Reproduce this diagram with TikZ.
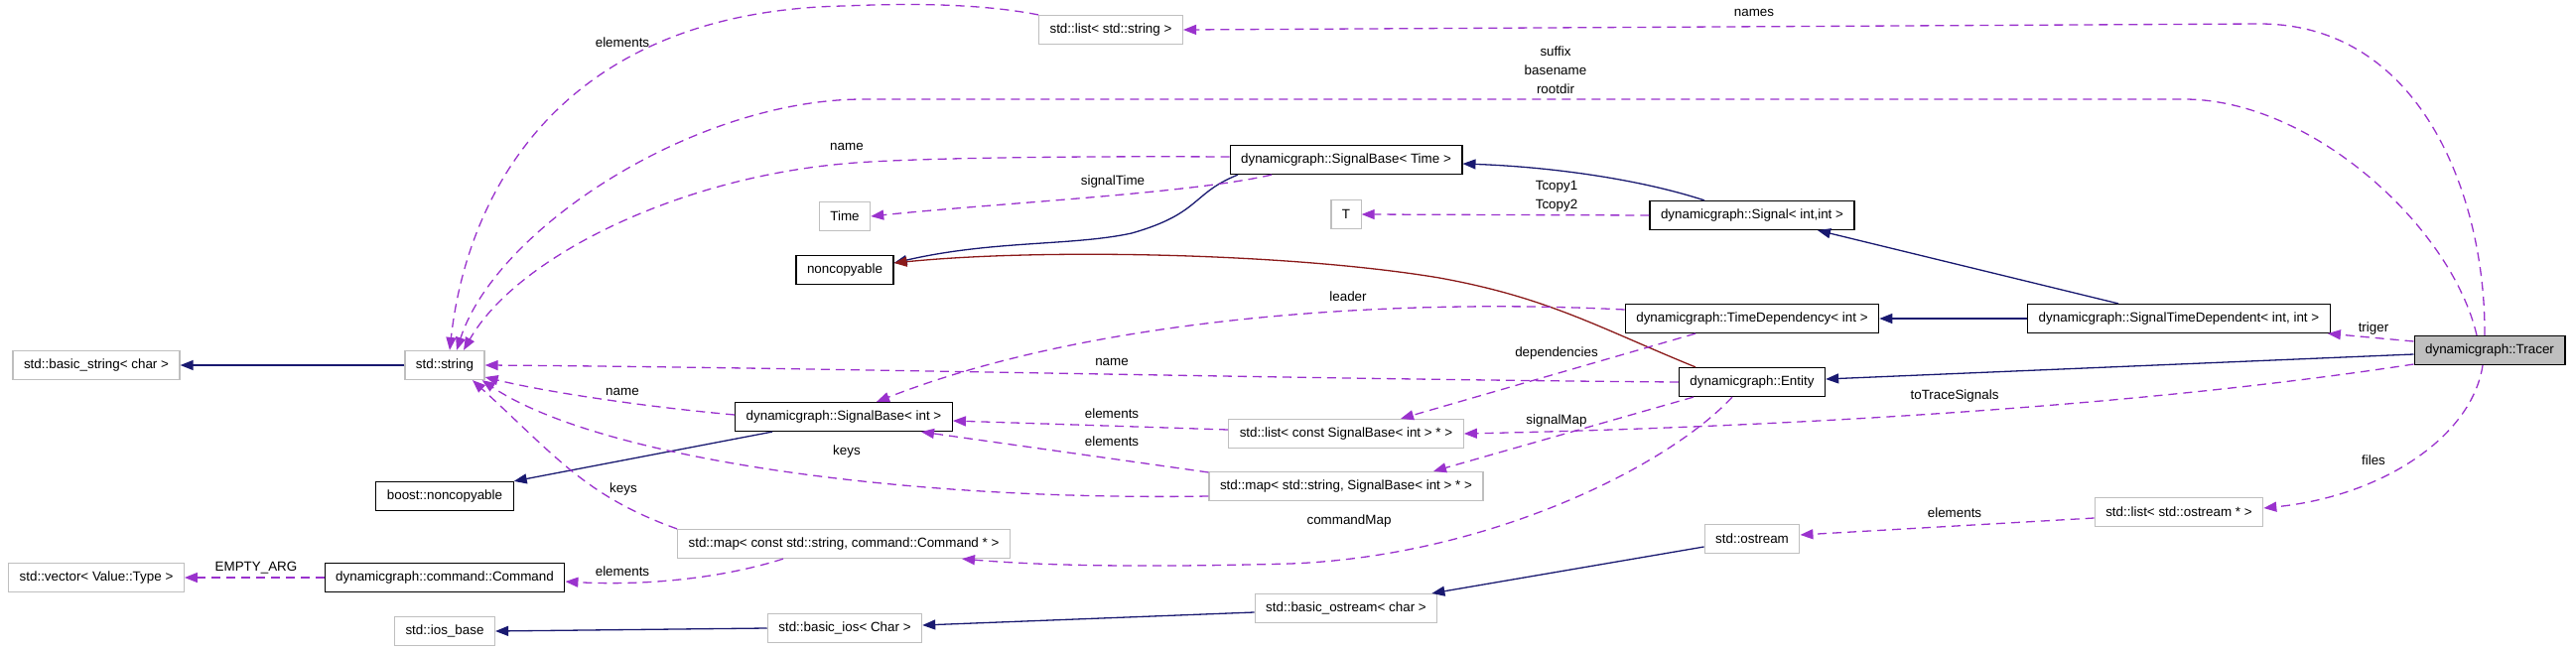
\documentclass[tikz,border=0pt]{standalone}
\usepackage{fontspec}
\setmainfont{Liberation Sans}
\usepackage{tikz}
\usetikzlibrary{arrows.meta}
\definecolor{edgeblue}{RGB}{25,25,112}
\definecolor{usepurple}{RGB}{154,50,205}
\definecolor{privred}{RGB}{139,26,26}
\definecolor{extgray}{RGB}{191,191,191}

\begin{document}
\begin{tikzpicture}[x=1pt, y=-1pt,
  font=\fontsize{13.4}{19}\selectfont,
  box/.style={draw, line width=1.2pt, minimum height=29pt, inner xsep=11pt, inner ysep=0pt, fill=white},
  cls/.style={box, draw=black},
  ext/.style={box, draw=extgray},
  inh/.style={-{Triangle[length=13pt,width=10pt]}, line width=1.3pt, edgeblue},
  priv/.style={inh, privred},
  usage/.style={-{Triangle[length=13pt,width=10pt]}, line width=1.3pt, usepurple, dash pattern=on 9pt off 6pt},
  lbl/.style={inner sep=0pt, align=center}]
  \useasboundingbox (0,0) rectangle (2595,656);

  % Classes
  \node[cls, fill=extgray] (trc) at (2508,353) {dynamicgraph::Tracer};
  \node[cls] (sbt) at (1356,161) {dynamicgraph::SignalBase< Time >};
  \node[cls] (ncp) at (851,272) {noncopyable};
  \node[cls] (sig) at (1765,217) {dynamicgraph::Signal< int,int >};
  \node[cls] (tdep) at (1765,321) {dynamicgraph::TimeDependency< int >};
  \node[cls] (stdep) at (2195,321) {dynamicgraph::SignalTimeDependent< int, int >};
  \node[cls] (ent) at (1765,385) {dynamicgraph::Entity};
  \node[cls] (sbi) at (850,420) {dynamicgraph::SignalBase< int >};
  \node[cls] (bncp) at (448,500) {boost::noncopyable};
  \node[cls] (cmd) at (448,582) {dynamicgraph::command::Command};

  % External types
  \node[ext] (lststr) at (1119,30) {std::list< std::string >};
  \node[ext] (str) at (448,368) {std::string};
  \node[ext] (bstr) at (97,368) {std::basic\_string< char >};
  \node[ext] (time) at (851,218) {Time};
  \node[ext] (tt) at (1356,216) {T};
  \node[ext] (lstsb) at (1356,437) {std::list< const SignalBase< int > * >};
  \node[ext] (mapsb) at (1356,490) {std::map< std::string, SignalBase< int > * >};
  \node[ext] (mapcmd) at (850,548) {std::map< const std::string, command::Command * >};
  \node[ext] (vec) at (97,582) {std::vector< Value::Type >};
  \node[ext] (lstos) at (2195,516) {std::list< std::ostream * >};
  \node[ext] (ostr) at (1765,543) {std::ostream};
  \node[ext] (bostr) at (1356,613) {std::basic\_ostream< char >};
  \node[ext] (bios) at (851,633) {std::basic\_ios< Char >};
  \node[ext] (iosb) at (448,636) {std::ios\_base};

  % Inheritance
  \draw[inh] (str.west) -- (bstr.east);
  \draw[inh] ([xshift=-109pt]sbt.south) .. controls (1200,195) and (1210,215) .. (1140,235)
    .. controls (1080,248) and (1000,242) .. ([yshift=7pt]ncp.east);
  \draw[inh] ([xshift=-48pt]sig.north) .. controls (1650,180) and (1560,168) .. ([yshift=-4pt]sbt.east);
  \draw[inh] ([xshift=-61pt]stdep.north) -- ([xshift=66pt]sig.south);
  \draw[inh] (stdep.west) -- (tdep.east);
  \draw[inh] ([yshift=-4pt]trc.west) -- ([yshift=3pt]ent.east);
  \draw[priv] ([xshift=-57pt]ent.north) .. controls (1610,330) and (1560,300) .. (1450,280)
    .. controls (1300,255) and (1050,250) .. ([yshift=7pt]ncp.east);
  \draw[inh] ([xshift=-72pt]sbi.south) -- (bncp.north east);
  \draw[inh] ([yshift=-8pt]ostr.west) -- ([xshift=-6pt]bostr.north east);
  \draw[inh] ([yshift=-4pt]bostr.west) -- ([yshift=3pt]bios.east);
  \draw[inh] (bios.west) -- (iosb.east);

  % Usage
  \draw[usage] ([xshift=-5pt]trc.north) .. controls (2504,200) and (2440,24) .. (2276,24) -- (lststr.east);
  \draw[usage] (lststr.north west) .. controls (980,2) and (900,4) .. (850,6)
    .. controls (560,12) and (470,200) .. ([xshift=5pt]str.north);
  \draw[usage] ([xshift=-13pt]trc.north) .. controls (2470,230) and (2330,100) .. (2200,100) -- (870,100)
    .. controls (700,100) and (500,230) .. ([xshift=12pt]str.north);
  \draw[usage] ([yshift=3pt]sbt.west) .. controls (1050,157) and (900,160) .. (850,165)
    .. controls (680,180) and (520,260) .. ([xshift=19pt]str.north);
  \draw[usage] ([xshift=-75pt]sbt.south) .. controls (1200,195) and (1000,205) .. (time.east);
  \draw[usage] (sig.west) -- (tt.east);
  \draw[usage] ([yshift=9pt]trc.west) -- ([xshift=-3pt]stdep.south east);
  \draw[usage] ([yshift=-14pt]trc.west) .. controls (2150,410) and (1800,430) .. (lstsb.east);
  \draw[usage] ([xshift=-7pt]trc.south) .. controls (2490,440) and (2400,500) .. ([yshift=4pt]lstos.east);
  \draw[usage] ([yshift=-6pt]lstos.west) -- ([yshift=4pt]ostr.east);
  \draw[usage] ([yshift=9pt]tdep.west) .. controls (1400,300) and (1100,320) .. ([xshift=33pt]sbi.north);
  \draw[usage] ([xshift=-57pt]tdep.south) -- ([xshift=55pt]lstsb.north);
  \draw[usage] (ent.west) .. controls (1300,382) and (800,370) .. (str.east);
  \draw[usage] ([xshift=-59pt]ent.south) -- ([xshift=88pt]mapsb.north);
  \draw[usage] ([xshift=-20pt]ent.south) .. controls (1680,470) and (1500,560) .. (1300,568)
    .. controls (1150,572) and (1050,570) .. ([xshift=119pt]mapcmd.south);
  \draw[usage] ([yshift=2pt]sbi.west) .. controls (650,410) and (550,395) .. ([yshift=-12pt]str.east);
  \draw[usage] ([yshift=4pt]lstsb.west) -- ([yshift=-4pt]sbi.east);
  \draw[usage] ([yshift=14pt]mapsb.west) -- ([xshift=78pt]sbi.south);
  \draw[usage] ([yshift=-10pt]mapsb.west) .. controls (900,505) and (600,460) .. ([xshift=-3pt]str.south east);
  \draw[usage] (mapcmd.north west) .. controls (590,500) and (560,460) .. ([xshift=28pt]str.south);
  \draw[usage] ([xshift=-61pt]mapcmd.south) .. controls (720,585) and (640,590) .. ([yshift=-4pt]cmd.east);
  \draw[usage] (cmd.west) -- (vec.east);

  % Edge labels
  \node[lbl] (l-names) at (1767,13) {names};
  \node[lbl] (l-elstr) at (627,43) {elements};
  \node[lbl] (l-paths) at (1567,71) {suffix\\basename\\rootdir};
  \node[lbl] (l-namesbt) at (853,148) {name};
  \node[lbl] (l-sigtime) at (1121,183) {signalTime};
  \node[lbl] (l-tcopy) at (1568,197.5) {Tcopy1\\Tcopy2};
  \node[lbl] (l-leader) at (1358,299) {leader};
  \node[lbl] (l-triger) at (2391,331) {triger};
  \node[lbl] (l-deps) at (1568,356) {dependencies};
  \node[lbl] (l-nameent) at (1120,365) {name};
  \node[lbl] (l-namesbi) at (627,395) {name};
  \node[lbl] (l-trace) at (1969,399) {toTraceSignals};
  \node[lbl] (l-ellst) at (1120,417) {elements};
  \node[lbl] (l-sigmap) at (1568,424) {signalMap};
  \node[lbl] (l-elmap) at (1120,445) {elements};
  \node[lbl] (l-keysb) at (853,455) {keys};
  \node[lbl] (l-files) at (2391,464) {files};
  \node[lbl] (l-keycmd) at (628,493) {keys};
  \node[lbl] (l-elos) at (1969,517) {elements};
  \node[lbl] (l-cmdmap) at (1359,525) {commandMap};
  \node[lbl] (l-empty) at (258,572) {EMPTY\_ARG};
  \node[lbl] (l-elcmd) at (627,576) {elements};
\end{tikzpicture}
\end{document}
